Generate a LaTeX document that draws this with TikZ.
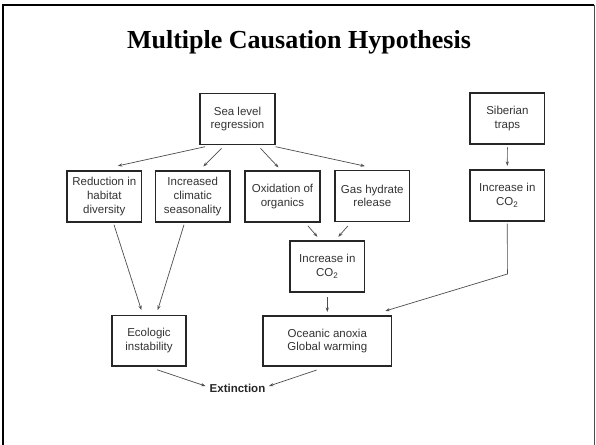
\documentclass[tikz,border=0pt]{standalone}
\usepackage{fontspec}
\setmainfont{Liberation Sans}
\newfontfamily\titlefont{Liberation Serif}
\usetikzlibrary{arrows.meta}
\begin{document}
\begin{tikzpicture}[x=1pt,y=-1pt,
  box/.style={draw=black!85, line width=1.6pt, fill=white, text=black!80,
    font=\fontsize{11.5}{13.7}\selectfont, align=center, inner sep=0pt,
    minimum width=74.5pt, minimum height=51pt},
  conn/.style={draw=black!70, line width=0.7pt, -{Stealth[length=4.5pt,width=3.2pt]}},
  plain/.style={draw=black!70, line width=0.7pt}]
\useasboundingbox (0,0) rectangle (596,444);
% frame
\draw[black, line width=2pt] (2.5,446) -- (2.5,5) -- (594,5);
\draw[black!70, line width=1pt] (594.5,5) -- (594.5,446);
% title
\node (title) at (299,42) {\titlefont\bfseries\fontsize{26}{30}\selectfont Multiple Causation Hypothesis};
% boxes
\node[box] (sea) at (237.5,119) {Sea level\\regression};
\node[box] (sib) at (507.4,118.3) {Siberian\\traps};
\node[box] (red) at (104.3,196.5) {Reduction in\\habitat\\diversity};
\node[box] (inc) at (192.7,196.5) {Increased\\climatic\\seasonality};
\node[box] (oxi) at (282.5,196.5) {Oxidation of\\organics};
\node[box] (gas) at (372.3,196) {Gas hydrate\\release};
\node[box] (co2r) at (507.3,195.5) {Increase in\\CO\textsubscript{2}};
\node[box] (co2m) at (327.3,266.5) {Increase in\\CO\textsubscript{2}};
\node[box, minimum height=50.5pt] (eco) at (149,340.7) {Ecologic\\instability};
\node[box, minimum width=128.5pt, minimum height=50.5pt] (oce) at (327.3,341) {Oceanic anoxia\\Global warming};
\node[text=black!85, font=\fontsize{11.5}{13.7}\selectfont\bfseries, inner sep=2pt] (ext) at (237.5,388) {Extinction};
% connectors
\draw[conn] ([xshift=5.7pt,yshift=-1.4pt]sea.south west) -- ([xshift=13.5pt,yshift=4.3pt]red.north);
\draw[conn] ([xshift=-16pt,yshift=-3pt]sea.south) -- ([xshift=10.6pt,yshift=3.7pt]inc.north);
\draw[conn] ([xshift=23pt,yshift=-3pt]sea.south) -- ([xshift=-4pt,yshift=2.7pt]oxi.north);
\draw[conn] ([yshift=-1.4pt]sea.south east) -- ([xshift=-7.4pt,yshift=3.6pt]gas.north);
\draw[conn] ([yshift=-2.7pt]sib.south) -- ([yshift=3.3pt]co2r.north);
\draw[conn] ([xshift=9.7pt,yshift=-2pt]red.south) -- ([xshift=-7.6pt,yshift=4.6pt]eco.north);
\draw[conn] ([xshift=-8.7pt,yshift=-2pt]inc.south) -- ([xshift=8.7pt,yshift=4.6pt]eco.north);
\draw[conn] ([xshift=25.4pt,yshift=-3pt]oxi.south) -- ([xshift=-9.9pt,yshift=3.4pt]co2m.north);
\draw[conn] ([xshift=-24.5pt,yshift=-3.7pt]gas.south) -- ([xshift=11pt,yshift=3.4pt]co2m.north);
\draw[conn] ([yshift=-4.4pt]co2m.south) -- ([yshift=3pt]oce.north);
\coordinate (bend) at (507.4,274);
\draw[conn] ([yshift=-1.7pt]co2r.south) -- (bend) -- ([xshift=-7pt,yshift=4pt]oce.north east);
\draw[conn] ([xshift=8pt,yshift=-3pt]eco.south) -- ([xshift=-2pt,yshift=2pt]ext.west);
\draw[conn] ([xshift=-10.7pt,yshift=-3pt]oce.south) -- ([xshift=1.5pt,yshift=2pt]ext.east);
\end{tikzpicture}
\end{document}
